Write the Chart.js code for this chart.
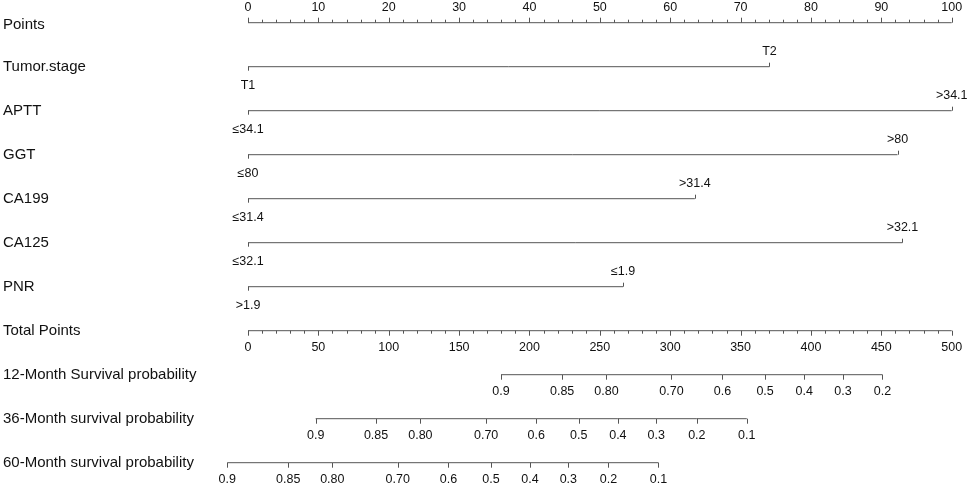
<!DOCTYPE html>
<html>
<head>
<meta charset="utf-8">
<script src="https://cdn.jsdelivr.net/npm/chart.js@4"></script>
<style>
  body { margin: 0; background: #fff; }
  canvas { display: block; }
</style>
</head>
<body>
<canvas id="nomogram" width="969" height="486"></canvas>
<script>
// row titles, top to bottom
var rowTitles = ['Points', 'Tumor.stage', 'APTT', 'GGT', 'CA199', 'CA125', 'PNR', 'Total Points',
  '12-Month Survival probability', '36-Month survival probability', '60-Month survival probability'];

// predictors: level at 0 points (label below) and level with points (label above)
var predictors = ['Tumor.stage', 'APTT', 'GGT', 'CA199', 'CA125', 'PNR'];
var lowLabels = ['T1', '≤34.1', '≤80', '≤31.4', '≤32.1', '>1.9'];
var highLabels = ['T2', '>34.1', '>80', '>31.4', '>32.1', '≤1.9'];
var highPoints = [74.1, 100, 92.3, 63.5, 93.0, 53.3];

// points & total points axes
var pointTicks = [0, 10, 20, 30, 40, 50, 60, 70, 80, 90, 100];
var totalTicks = [0, 50, 100, 150, 200, 250, 300, 350, 400, 450, 500];

// survival probability axes (position in total points)
var surv12Labels = ['0.9', '0.85', '0.80', '0.70', '0.6', '0.5', '0.4', '0.3', '0.2'];
var surv12Total = [179.8, 223.2, 254.7, 300.9, 337.1, 367.4, 395.2, 422.7, 450.8];
var surv36Labels = ['0.9', '0.85', '0.80', '0.70', '0.6', '0.5', '0.4', '0.3', '0.2', '0.1'];
var surv36Total = [48.1, 91.0, 122.5, 169.2, 204.8, 235.0, 262.8, 290.0, 318.9, 354.4];
var surv60Labels = ['0.9', '0.85', '0.80', '0.70', '0.6', '0.5', '0.4', '0.3', '0.2', '0.1'];
var surv60Total = [-14.7, 28.6, 59.9, 106.4, 142.4, 172.7, 200.4, 227.6, 256.1, 291.6];

var lineColor = '#555555';
var tickFont = '12.5px "Liberation Sans", Arial, sans-serif';
var titleFont = '15px "Liberation Sans", Arial, sans-serif';

function lineSet(points, axis) {
  return {
    data: points,
    xAxisID: axis,
    showLine: true,
    borderColor: lineColor,
    borderWidth: 1,
    pointRadius: 0,
    clip: false
  };
}

var datasets = [];
datasets.push(lineSet([{x: pointTicks[0], y: 0}, {x: pointTicks[pointTicks.length - 1], y: 0}], 'x'));
for (var i = 0; i < predictors.length; i++) {
  datasets.push(lineSet([{x: 0, y: i + 1}, {x: highPoints[i], y: i + 1}], 'x'));
}
datasets.push(lineSet([{x: totalTicks[0], y: 7}, {x: totalTicks[totalTicks.length - 1], y: 7}], 'xt'));
var survSets = [[surv12Total, surv12Labels], [surv36Total, surv36Labels], [surv60Total, surv60Labels]];
survSets.forEach(function(s, k) {
  datasets.push(lineSet(s[0].map(function(v) { return {x: v, y: 8 + k}; }), 'xt'));
});

var nomogramPlugin = {
  id: 'nomogram',
  afterDatasetsDraw: function(chart) {
    var c = chart.ctx;
    var xs = chart.scales.x, xt = chart.scales.xt, ys = chart.scales.y;
    c.save();
    c.strokeStyle = lineColor;
    c.lineWidth = 1;
    c.fillStyle = '#111';

    function tick(x, y, len) {
      x = Math.round(x) + 0.5;
      c.beginPath();
      c.moveTo(x, y);
      c.lineTo(x, y + len);
      c.stroke();
    }

    // row titles
    c.font = titleFont;
    c.textAlign = 'left';
    c.textBaseline = 'middle';
    rowTitles.forEach(function(t, r) {
      c.fillText(t, 3, ys.getPixelForValue(r) + (r === 0 ? 2 : 0));
    });

    c.font = tickFont;
    c.textAlign = 'center';

    // Points axis: ticks upward, labels above
    var y0 = ys.getPixelForValue(0);
    for (var p = 0; p <= 100; p += 2) {
      tick(xs.getPixelForValue(p), y0, p % 10 === 0 ? -5 : -3);
    }
    pointTicks.forEach(function(v) {
      c.fillText(String(v), xs.getPixelForValue(v), y0 - 15);
    });

    // predictors
    predictors.forEach(function(name, i) {
      var y = ys.getPixelForValue(i + 1);
      var xl = xs.getPixelForValue(0), xh = xs.getPixelForValue(highPoints[i]);
      tick(xl, y, 4);
      tick(xh, y, -4);
      c.fillText(lowLabels[i], xl, y + 19);
      c.fillText(highLabels[i], xh, y - 15);
    });

    // Total points: ticks downward, labels below
    var y7 = ys.getPixelForValue(7);
    for (var t = 0; t <= 500; t += 10) {
      tick(xt.getPixelForValue(t), y7, t % 50 === 0 ? 5 : 3);
    }
    totalTicks.forEach(function(v) {
      c.fillText(String(v), xt.getPixelForValue(v), y7 + 17);
    });

    // survival axes
    survSets.forEach(function(s, k) {
      var y = ys.getPixelForValue(8 + k);
      s[0].forEach(function(v, j) {
        var x = xt.getPixelForValue(v);
        tick(x, y, 5);
        c.fillText(s[1][j], x, y + 17);
      });
    });
    c.restore();
  }
};

new Chart(document.getElementById('nomogram'), {
  type: 'scatter',
  data: { datasets: datasets },
  options: {
    responsive: false,
    animation: false,
    layout: { padding: { left: 248, right: 17.3, top: 22.7, bottom: 23.3 } },
    plugins: { legend: { display: false }, tooltip: { enabled: false } },
    scales: {
      x: { type: 'linear', min: 0, max: 100, display: false },
      xt: { type: 'linear', axis: 'x', min: 0, max: 500, display: false },
      y: { type: 'linear', min: 0, max: 10, reverse: true, display: false }
    }
  },
  plugins: [nomogramPlugin]
});
</script>
</body>
</html>
